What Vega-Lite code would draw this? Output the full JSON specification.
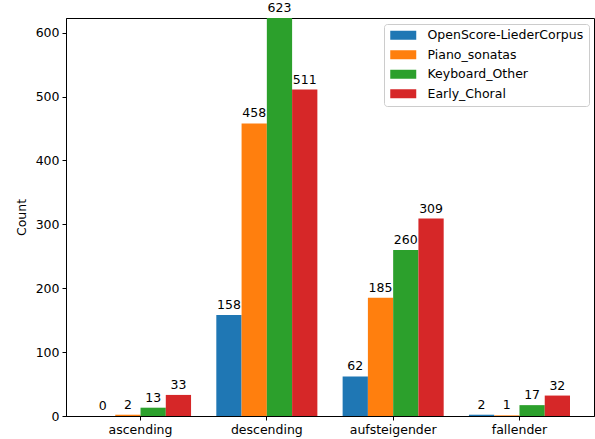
{
  "$schema": "https://vega.github.io/schema/vega-lite/v6.json",
  "autosize": {"type": "none"},
  "width": 528,
  "height": 398,
  "padding": {"left": 66, "top": 18, "right": 1, "bottom": 23},
  "background": "white",
  "config": {
    "font": "DejaVu Sans",
    "view": {"stroke": "#000000", "strokeWidth": 1}
  },
  "data": {
    "values": [
      {"category": "ascending", "corpus": "OpenScore-LiederCorpus", "count": 0},
      {"category": "ascending", "corpus": "Piano_sonatas", "count": 2},
      {"category": "ascending", "corpus": "Keyboard_Other", "count": 13},
      {"category": "ascending", "corpus": "Early_Choral", "count": 33},
      {"category": "descending", "corpus": "OpenScore-LiederCorpus", "count": 158},
      {"category": "descending", "corpus": "Piano_sonatas", "count": 458},
      {"category": "descending", "corpus": "Keyboard_Other", "count": 623},
      {"category": "descending", "corpus": "Early_Choral", "count": 511},
      {"category": "aufsteigender", "corpus": "OpenScore-LiederCorpus", "count": 62},
      {"category": "aufsteigender", "corpus": "Piano_sonatas", "count": 185},
      {"category": "aufsteigender", "corpus": "Keyboard_Other", "count": 260},
      {"category": "aufsteigender", "corpus": "Early_Choral", "count": 309},
      {"category": "fallender", "corpus": "OpenScore-LiederCorpus", "count": 2},
      {"category": "fallender", "corpus": "Piano_sonatas", "count": 1},
      {"category": "fallender", "corpus": "Keyboard_Other", "count": 17},
      {"category": "fallender", "corpus": "Early_Choral", "count": 32}
    ]
  },
  "encoding": {
    "x": {
      "field": "category",
      "type": "nominal",
      "sort": ["ascending", "descending", "aufsteigender", "fallender"],
      "scale": {"paddingInner": 0.2, "paddingOuter": 0.19},
      "axis": {
        "title": null,
        "labelAngle": 0,
        "labelFontSize": 12.5,
        "labelColor": "#000000",
        "labelPadding": 3,
        "tickColor": "#000000",
        "tickSize": 4,
        "domainColor": "#000000"
      }
    },
    "xOffset": {
      "field": "corpus",
      "type": "nominal",
      "sort": ["OpenScore-LiederCorpus", "Piano_sonatas", "Keyboard_Other", "Early_Choral"],
      "scale": {"paddingInner": 0, "paddingOuter": 0}
    },
    "y": {
      "field": "count",
      "type": "quantitative",
      "scale": {"domain": [0, 623], "nice": false, "zero": true},
      "axis": {
        "title": "Count",
        "titleFontSize": 12.5,
        "titleFontWeight": "normal",
        "titleColor": "#000000",
        "titlePadding": 7,
        "values": [0, 100, 200, 300, 400, 500, 600],
        "grid": false,
        "labelFontSize": 12.5,
        "labelColor": "#000000",
        "labelPadding": 3,
        "tickColor": "#000000",
        "tickSize": 4,
        "domainColor": "#000000"
      }
    }
  },
  "layer": [
    {
      "mark": {"type": "bar"},
      "encoding": {
        "color": {
          "field": "corpus",
          "type": "nominal",
          "sort": ["OpenScore-LiederCorpus", "Piano_sonatas", "Keyboard_Other", "Early_Choral"],
          "scale": {
            "domain": ["OpenScore-LiederCorpus", "Piano_sonatas", "Keyboard_Other", "Early_Choral"],
            "range": ["#1f77b4", "#ff7f0e", "#2ca02c", "#d62728"]
          },
          "legend": {
            "title": null,
            "orient": "none",
            "legendX": 318,
            "legendY": 6,
            "labelFontSize": 12.5,
            "labelColor": "#000000",
            "symbolType": "M-1,-0.9L4.2,-0.9L4.2,0.9L-1,0.9Z",
            "symbolSize": 100,
            "symbolStrokeWidth": 0,
            "symbolOpacity": 1,
            "rowPadding": 6.5,
            "labelOffset": 26,
            "padding": 5,
            "strokeColor": "#cccccc",
            "fillColor": "white",
            "cornerRadius": 3
          }
        }
      }
    },
    {
      "mark": {"type": "text", "baseline": "bottom", "dy": -3, "fontSize": 12.5, "color": "#000000"},
      "encoding": {
        "text": {"field": "count", "type": "quantitative"}
      }
    }
  ]
}
